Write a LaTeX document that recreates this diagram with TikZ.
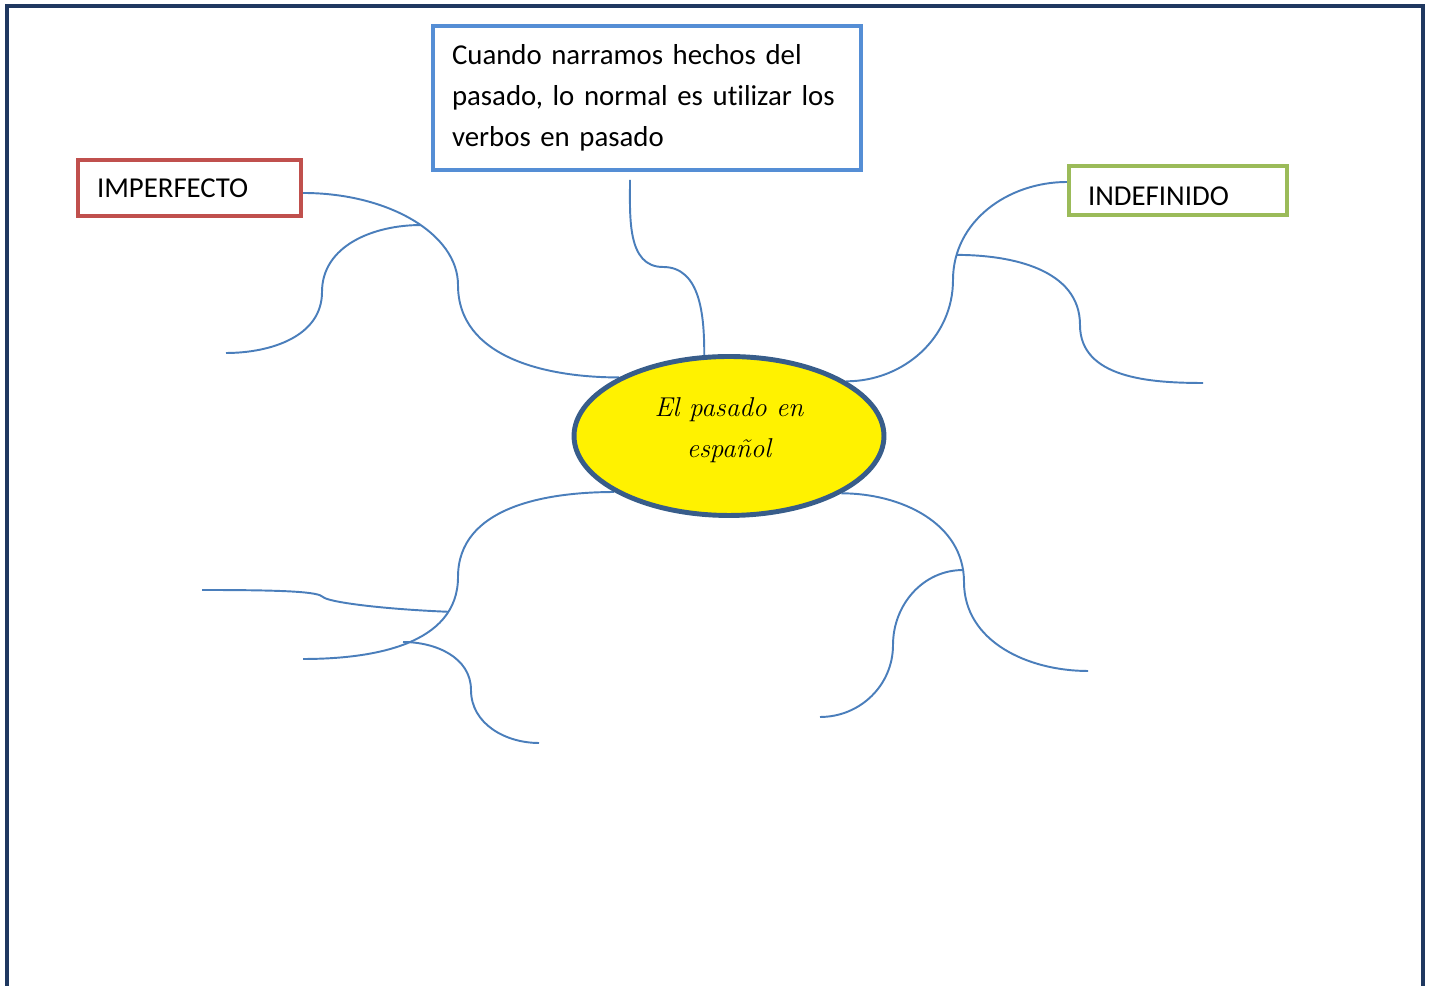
\documentclass[tikz,border=0pt]{standalone}
\usepackage{fontspec}
\newfontfamily\boxfont[Ligatures=NoCommon]{Carlito}
\usepackage{tikz}
\usetikzlibrary{shapes,positioning,backgrounds}
\definecolor{mmnavy}{RGB}{31,56,96}
\definecolor{mmblue}{RGB}{85,142,213}
\definecolor{mmred}{RGB}{192,80,77}
\definecolor{mmgreen}{RGB}{155,187,89}
\definecolor{mmline}{RGB}{74,126,187}
\definecolor{mmsunedge}{RGB}{56,93,138}
\tikzstyle{labelbox} = [rectangle, draw, line width=2.4pt, fill=white, align=left, inner xsep=0.38cm, font=\boxfont\fontsize{16.4}{23.5}\selectfont]
\tikzstyle{sunnode} = [ellipse, draw=mmsunedge, fill=yellow, line width=2.8pt, inner sep=0pt, align=center, font=\fontsize{15.5}{23.8}\selectfont\itshape]
\tikzstyle{branch} = [line width=1.1pt, color=mmline]

\begin{document}
\begin{tikzpicture}[x=0.02cm, y=0.02cm]
\useasboundingbox (0,0) rectangle (1433,986);
% Outer frame
\draw[mmnavy, line width=2.3pt] (7,0) -- (7,980) -- (1423,980) -- (1423,0);

% Central node
\node[sunnode, minimum width=6.2cm, minimum height=3.18cm] (pasado) at (729,550) {El pasado en\\español\rule[-0.34cm]{0pt}{0pt}};

% Boxes
\node[labelbox, draw=mmblue, minimum width=8.56cm, minimum height=2.88cm, text width=7.8cm] (intro) at (647,888) {Cuando narramos hechos del\\pasado, lo normal es utilizar los\\verbos en pasado};
\node[labelbox, draw=mmred, minimum width=4.46cm, minimum height=1.12cm, text width=3.7cm] (imp) at (189.5,798) {IMPERFECTO};
\node[labelbox, draw=mmgreen, minimum width=4.36cm, minimum height=0.98cm, text width=3.6cm, text height=0.6cm, text depth=0pt] (indef) at (1178,795.5) {INDEFINIDO};

% Free ends
\coordinate (introfoot) at (630,806);
\coordinate (impleaf) at (226,633);
\coordinate (indefleaf) at (1203,603);
\coordinate (leftleaf) at (303,327);
\coordinate (farleft) at (202,396);
\coordinate (midstart) at (403,344);
\coordinate (midleaf) at (539,243);
\coordinate (rightleaf) at (1088,315);
\coordinate (lowleaf) at (820,269);

\begin{pgfonlayer}{background}
% Upper branches
\draw[branch] ([yshift=-0.1cm]imp.east) to[out=0,in=90,out distance=1.71cm,in distance=1.02cm] node[coordinate,pos=0.55] (impfork) {} (458,701) to[out=-90,in=180] (pasado.152);
\draw[branch] (impfork) to[out=180,in=90] (322,694) to[out=-90,in=0] (impleaf);
\draw[branch] (introfoot) to[out=-90,in=180] (663,719) to[out=0,in=90] (pasado.107);
\draw[branch] ([yshift=0.17cm]indef.west) to[out=180,in=90] node[coordinate,pos=0.85] (indeffork) {} (953,706) to[out=-90,in=0] (pasado.25);
\draw[branch] (indeffork) to[out=0,in=90] (1080,661) to[out=-90,in=180] (indefleaf);

% Lower branches
\draw[branch] (pasado.206) to[out=180,in=90] (458,409) to[out=-90,in=0] node[coordinate,pos=0.2] (leftfork) {} (leftleaf);
\draw[branch] (farleft) .. controls (290,396) and (318,394) .. (323,389) .. controls (328,384) and (380,377) .. (leftfork);
\draw[branch] (midstart) to[out=0,in=90] (471,296) to[out=-90,in=180] (midleaf);
\draw[branch] (pasado.333) to[out=0,in=90] node[coordinate,pos=0.93] (rightfork) {} (964,404) to[out=-90,in=180] (rightleaf);
\draw[branch] (rightfork) to[out=180,in=90] (893,341) to[out=-90,in=0] (lowleaf);
\end{pgfonlayer}
\end{tikzpicture}
\end{document}
